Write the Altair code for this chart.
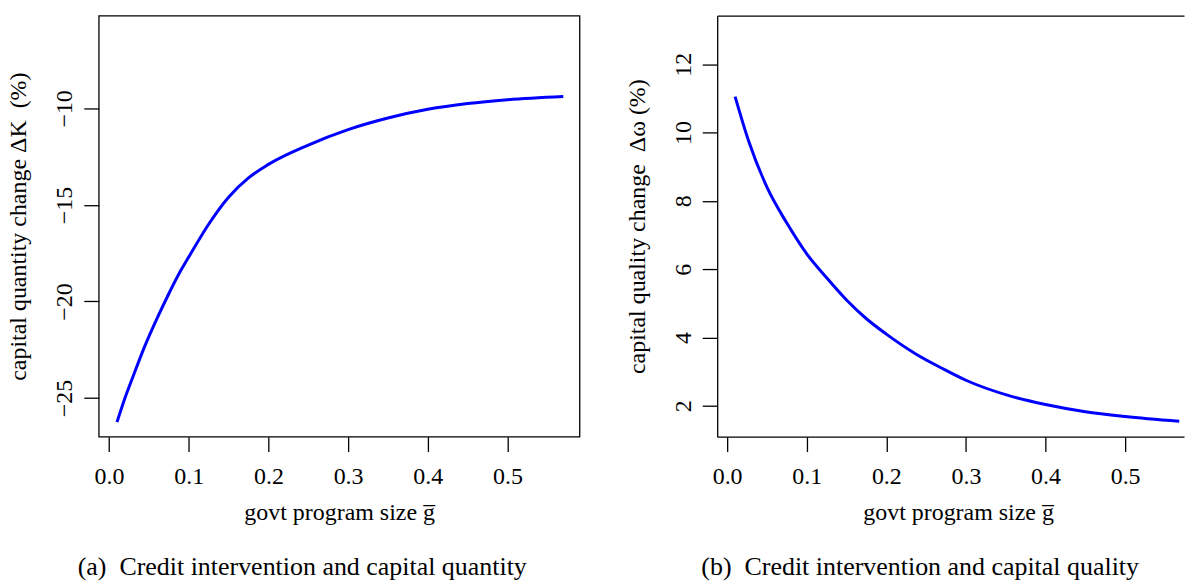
import altair as alt
import pandas as pd

# ---- data ----
g_left = [0.010, 0.020, 0.030, 0.045, 0.060, 0.075, 0.090, 0.100, 0.125, 0.150,
          0.175, 0.200, 0.250, 0.300, 0.350, 0.400, 0.450, 0.500, 0.570]
dK = [-26.25, -25.0, -23.9, -22.3, -20.9, -19.6, -18.4, -17.7, -16.0, -14.6,
      -13.6, -12.9, -11.9, -11.1, -10.5, -10.05, -9.75, -9.55, -9.38]

g_right = [0.010, 0.027, 0.050, 0.075, 0.100, 0.125, 0.150, 0.175, 0.200, 0.237,
           0.270, 0.300, 0.354, 0.400, 0.450, 0.500, 0.568]
dw = [11.05, 9.75, 8.4, 7.35, 6.45, 5.75, 5.1, 4.55, 4.10, 3.52,
      3.1, 2.75, 2.30, 2.04, 1.83, 1.69, 1.55]

x_ticks = [0.0, 0.1, 0.2, 0.3, 0.4, 0.5]
y_ticks_left = [-25, -20, -15, -10]
y_ticks_right = [2, 4, 6, 8, 10, 12]

x_title = "govt program size g\u0305"
y_title_left = "capital quantity change \u0394K\u00a0 (%)"
y_title_right = "capital quality change\u00a0 \u0394\u03c9 (%)"
cap_left = "(a)\u00a0 Credit intervention and capital quantity"
cap_right = "(b)\u00a0 Credit intervention and capital quality"

df_left = pd.DataFrame({"g": g_left, "v": dK})
df_right = pd.DataFrame({"g": g_right, "v": dw})

FONT = "Liberation Serif"
FS = 24
W_L, W_R, H = 482, 468, 422
LW = 1.3

common = dict(
    grid=False, tickSize=15, tickColor="black", tickWidth=LW,
    labelFont=FONT, labelFontSize=FS, labelColor="black",
    labelFlush=False, labelOverlap=False,
    titleFont=FONT, titleFontSize=FS, titleFontWeight="normal", titleColor="black",
    domainColor="black", domainWidth=LW,
)


def x_axis(domain_on, tx):
    return alt.Axis(title=x_title, values=x_ticks, format=".1f", labelAngle=0,
                    labelBaseline="top", labelPadding=13, domain=domain_on,
                    titleX=tx, titleY=83, titleBaseline="alphabetic", titleAlign="center",
                    **common)


def y_axis(title, ticks, domain_on):
    return alt.Axis(title=title, values=ticks, format="d", labelAngle=270,
                    labelAlign="center", labelBaseline="alphabetic", labelPadding=12,
                    domain=domain_on, titleAngle=270, titleX=-73, titleY=H / 2,
                    titleBaseline="alphabetic", titleAlign="center", **common)


def caption(text, dx):
    return alt.TitleParams(text, orient="bottom", anchor="middle", frame="group",
                           dx=dx, offset=30, font=FONT, fontSize=26,
                           fontWeight="normal", color="black")


xs_left = alt.Scale(domain=[-0.0129, 0.5904], nice=False, zero=False)
ys_left = alt.Scale(domain=[-27.0, -5.2], nice=False, zero=False)
xs_right = alt.Scale(domain=[-0.0125, -0.0125 + W_R / 798.0], nice=False, zero=False)
ys_right = alt.Scale(domain=[1.1, 13.42], nice=False, zero=False)

left = alt.Chart(df_left).mark_line(color="#0000ff", strokeWidth=3, interpolate="monotone").encode(
    x=alt.X("g:Q", scale=xs_left, axis=x_axis(False, W_L / 2)),
    y=alt.Y("v:Q", scale=ys_left, axis=y_axis(y_title_left, y_ticks_left, False)),
).properties(
    width=W_L, height=H, title=caption(cap_left, -37),
    view=alt.ViewBackground(stroke="black", strokeWidth=LW),
)

right_line = alt.Chart(df_right).mark_line(color="#0000ff", strokeWidth=3, interpolate="monotone").encode(
    x=alt.X("g:Q", scale=xs_right, axis=x_axis(True, 241.5)),
    y=alt.Y("v:Q", scale=ys_right, axis=y_axis(y_title_right, y_ticks_right, True)),
)
# invisible layer that only carries the top frame line (top axis domain)
right_top = alt.Chart(df_right).mark_line(strokeOpacity=0).encode(
    x=alt.X("g:Q", scale=xs_right,
            axis=alt.Axis(orient="top", labels=False, ticks=False, title=None, grid=False,
                          domain=True, domainColor="black", domainWidth=LW)),
    y=alt.value(0),
)
right = alt.layer(right_line, right_top).resolve_axis(x="independent").properties(
    width=W_R, height=H, title=caption(cap_right, -30.5),
    view=alt.ViewBackground(stroke="transparent"),
)

chart = alt.hconcat(left, right, spacing=138, bounds="flush").properties(
    padding={"left": 6, "top": 14, "right": 0, "bottom": 0},
    background="white",
).configure(font=FONT)

chart.save("out.html", embed_options={"renderer": "svg", "actions": False})
